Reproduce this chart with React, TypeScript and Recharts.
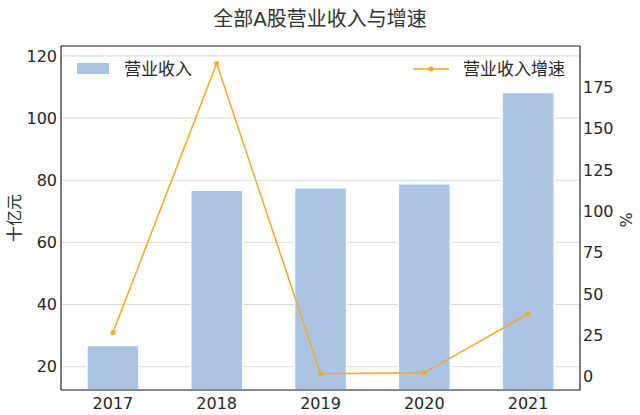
import React from 'react';
import {
  ComposedChart,
  Bar,
  Line,
  XAxis,
  YAxis,
  CartesianGrid,
  ReferenceLine,
} from 'recharts';

const years = ['2017', '2018', '2019', '2020', '2021'];
const revenue = [26.8, 76.8, 77.6, 78.9, 108.2];
const growth = [26.6, 189.4, 1.8, 2.4, 38.1];
const leftTicks = [20, 40, 60, 80, 100, 120];
const rightTicks = [0, 25, 50, 75, 100, 125, 150, 175];

const BAR_COLOR = '#a9c4e5';
const LINE_COLOR = '#f5aa17';
const FONT = '"DejaVu Sans", "Noto Sans CJK SC", sans-serif';
const TEXT = '#262626';

const chartData = years.map((y, i) => ({
  year: y,
  营业收入: revenue[i],
  营业收入增速: growth[i],
}));

// legend drawn as an overlay so it doesn't push the plot area down
const ChartLegend = () => (
  <div style={{ position: 'absolute', left: 0, top: 57, width: 640, height: 24, fontFamily: FONT, fontSize: 17, color: TEXT }}>
    <div style={{ position: 'absolute', left: 77, top: 6, width: 32, height: 11, background: BAR_COLOR }} />
    <span style={{ position: 'absolute', left: 124, top: 0, lineHeight: '24px' }}>营业收入</span>
    <svg style={{ position: 'absolute', left: 413, top: 7 }} width={36} height={10}>
      <line x1={0} y1={5} x2={36} y2={5} stroke={LINE_COLOR} strokeWidth={1.5} />
      <circle cx={18} cy={5} r={2.5} fill={LINE_COLOR} />
    </svg>
    <span style={{ position: 'absolute', left: 463, top: 0, lineHeight: '24px' }}>营业收入增速</span>
  </div>
);

export default function App() {
  const tick = { fontSize: 16, fill: TEXT, fontFamily: FONT };
  return (
    <div style={{ position: 'absolute', left: 0, top: 0, width: 640, height: 415, background: '#fff' }}>
      <div
        style={{
          position: 'absolute',
          left: 0,
          top: 3,
          width: 640,
          textAlign: 'center',
          fontFamily: FONT,
          fontSize: 20,
          color: '#333',
        }}
      >
        全部A股营业收入与增速
      </div>
      <ComposedChart
        width={640}
        height={415}
        data={chartData}
        margin={{ top: 46, right: 0, bottom: 0, left: 0 }}
        barCategoryGap="25%"
      >
        <CartesianGrid yAxisId="left" vertical={false} stroke="#d9d9d9" strokeWidth={1} />
        <XAxis
          dataKey="year"
          tick={tick}
          tickLine={false}
          tickSize={6}
          tickMargin={2}
          height={25}
          axisLine={{ stroke: '#222', strokeWidth: 1.2 }}
        />
        <YAxis
          yAxisId="left"
          width={61}
          domain={[12.5, 123.2]}
          ticks={leftTicks}
          allowDataOverflow
          tick={tick}
          tickLine={false}
          tickSize={2}
          tickMargin={2}
          axisLine={{ stroke: '#222', strokeWidth: 1.2 }}
          label={{
            content: () => (
              <text
                x={14}
                y={218}
                transform="rotate(-90 14 218)"
                textAnchor="middle"
                dominantBaseline="central"
                fontSize={16}
                fill={TEXT}
                fontFamily={FONT}
              >
                十亿元
              </text>
            ),
          }}
        />
        <YAxis
          yAxisId="right"
          orientation="right"
          width={60}
          domain={[-8, 200]}
          ticks={rightTicks}
          allowDataOverflow
          tick={{ ...tick, textAnchor: 'start' }}
          tickLine={false}
          tickSize={1}
          tickMargin={2}
          axisLine={{ stroke: '#222', strokeWidth: 1.2 }}
          label={{
            content: () => (
              <text
                x={626}
                y={220}
                transform="rotate(-90 626 220)"
                textAnchor="middle"
                dominantBaseline="central"
                fontSize={16}
                fill={TEXT}
                fontFamily={FONT}
              >
                %
              </text>
            ),
          }}
        />
        <ReferenceLine yAxisId="left" y={123.2} stroke="#222" strokeWidth={1.2} ifOverflow="extendDomain" />
        <Bar
          yAxisId="left"
          dataKey="营业收入"
          fill={BAR_COLOR}
          stroke="#fff"
          strokeWidth={1.5}
          isAnimationActive={false}
        />
        <Line
          yAxisId="right"
          dataKey="营业收入增速"
          type="linear"
          stroke={LINE_COLOR}
          strokeWidth={1.5}
          dot={{ r: 2.5, fill: LINE_COLOR, stroke: 'none' }}
          activeDot={false}
          isAnimationActive={false}
        />
      </ComposedChart>
      <ChartLegend />
    </div>
  );
}
